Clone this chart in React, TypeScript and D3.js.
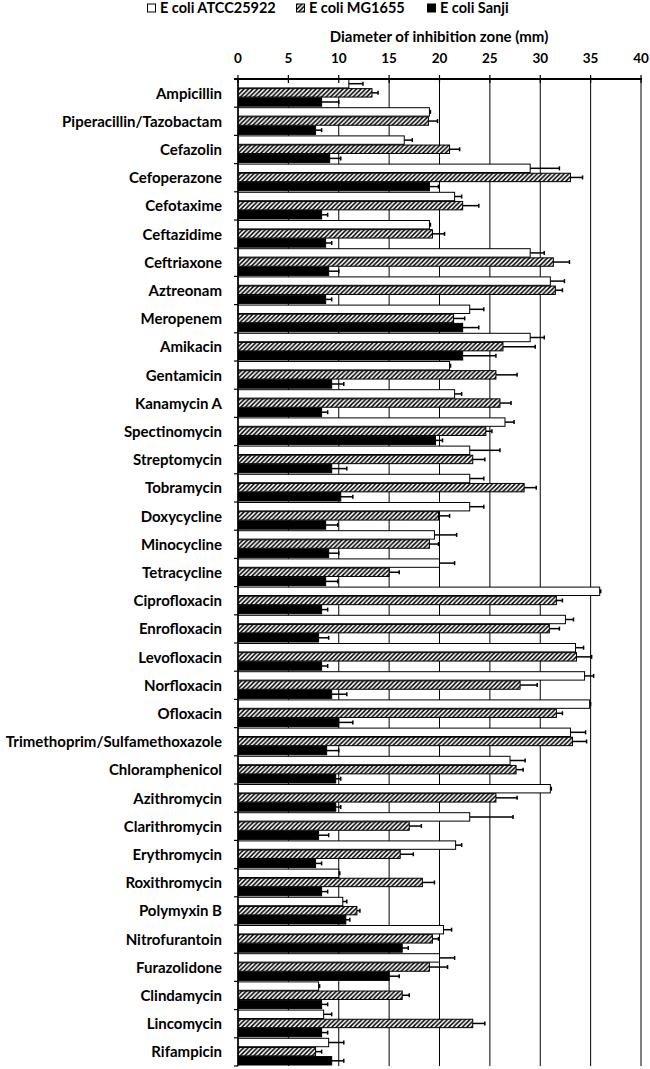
import React from "react";
import * as d3 from "d3";

const categories = [
  "Ampicillin", "Piperacillin/Tazobactam", "Cefazolin", "Cefoperazone", "Cefotaxime", "Ceftazidime",
  "Ceftriaxone", "Aztreonam", "Meropenem", "Amikacin", "Gentamicin", "Kanamycin A", "Spectinomycin",
  "Streptomycin", "Tobramycin", "Doxycycline", "Minocycline", "Tetracycline", "Ciprofloxacin",
  "Enrofloxacin", "Levofloxacin", "Norfloxacin", "Ofloxacin", "Trimethoprim/Sulfamethoxazole",
  "Chloramphenicol", "Azithromycin", "Clarithromycin", "Erythromycin", "Roxithromycin", "Polymyxin B",
  "Nitrofurantoin", "Furazolidone", "Clindamycin", "Lincomycin", "Rifampicin",
];

const seriesNames = ["E coli ATCC25922", "E coli MG1655", "E coli Sanji"];

const atcc = [11.0, 19.0, 16.5, 29.0, 21.5, 19.0, 29.0, 31.0, 23.0, 29.0, 21.0, 21.5, 26.5, 23.0, 23.0, 23.0, 19.5, 20.0, 35.9, 32.5, 33.5, 34.4, 34.9, 33.0, 27.0, 31.0, 23.0, 21.6, 10.0, 10.4, 20.4, 20.0, 8.0, 8.5, 9.0];
const atccErr = [1.4, 0.1, 0.8, 2.9, 0.7, 0.1, 1.4, 1.4, 1.4, 1.4, 0.1, 0.7, 0.9, 3.0, 1.4, 1.4, 2.2, 1.5, 0.1, 0.8, 0.8, 0.9, 0.1, 1.5, 1.5, 0.1, 4.3, 0.6, 0.1, 0.4, 0.8, 1.5, 0.1, 0.8, 1.5];
const mg = [13.3, 18.9, 21.0, 33.0, 22.3, 19.3, 31.3, 31.5, 21.4, 26.3, 25.6, 26.0, 24.6, 23.3, 28.4, 19.9, 19.0, 15.0, 31.6, 30.9, 33.6, 28.0, 31.6, 33.2, 27.6, 25.6, 17.0, 16.1, 18.3, 11.8, 19.3, 19.0, 16.3, 23.3, 7.7];
const mgErr = [0.6, 0.9, 1.0, 1.2, 1.6, 1.2, 1.6, 0.7, 1.1, 3.2, 2.1, 1.1, 0.6, 1.2, 1.2, 1.1, 0.9, 1.0, 0.6, 1.0, 1.5, 1.7, 0.6, 1.4, 0.7, 2.1, 1.2, 1.3, 1.2, 0.3, 0.6, 1.8, 0.7, 1.2, 0.6];
const sanji = [8.3, 7.7, 9.1, 19.0, 8.3, 8.7, 9.0, 8.7, 22.3, 22.3, 9.3, 8.3, 19.6, 9.3, 10.2, 8.7, 9.0, 8.7, 8.3, 8.0, 8.3, 9.3, 10.0, 8.8, 9.7, 9.7, 8.0, 7.7, 8.3, 10.7, 16.3, 15.0, 8.3, 8.3, 9.3];
const sanjiErr = [1.7, 0.6, 1.1, 0.9, 0.6, 0.6, 1.0, 0.6, 1.6, 3.3, 1.2, 0.6, 0.7, 1.5, 1.2, 1.2, 1.0, 1.2, 0.6, 1.0, 0.6, 1.5, 1.4, 1.2, 0.5, 0.5, 1.0, 0.6, 0.6, 0.4, 0.6, 1.0, 0.6, 0.6, 1.2];

const xTicks = [0, 5, 10, 15, 20, 25, 30, 35, 40];

const W = 650;
const H = 1069;
const FONT = "Lato, 'Open Sans', sans-serif";

export default function App() {
  const x = d3.scaleLinear().domain([0, 40]).range([238, 641]);
  const y = d3.scaleBand<string>().domain(categories).range([79, 1066]).paddingInner(0).paddingOuter(0);
  const inner = d3
    .scaleBand<number>()
    .domain([0, 1, 2])
    .range([0.5, y.bandwidth() - 1])
    .paddingInner(0.08);

  const values = [atcc, mg, sanji];
  const errs = [atccErr, mgErr, sanjiErr];
  const fills = ["#ffffff", "url(#hatch)", "#000000"];

  const legendItems = [
    { x: 147, label: seriesNames[0], fill: fills[0] },
    { x: 296, label: seriesNames[1], fill: fills[1] },
    { x: 427, label: seriesNames[2], fill: fills[2] },
  ];

  const top = y.range()[0];
  const bottom = y.range()[1];

  return (
    <svg width={W} height={H} style={{ position: "absolute", left: 0, top: 0, background: "#fff" }} fontFamily={FONT}>
      <defs>
        <pattern id="hatch" patternUnits="userSpaceOnUse" width={4.5} height={4.5}>
          <rect width={4.5} height={4.5} fill="#fff" />
          <path d="M-1,1 l2,-2 M0,4.5 l4.5,-4.5 M3.5,5.5 l2,-2" stroke="#000" strokeWidth={1.5} />
        </pattern>
      </defs>
      <rect x={0} y={0} width={W} height={H} fill="#fff" />

      {/* legend */}
      {legendItems.map((l, i) => (
        <g key={i}>
          <rect x={l.x + 0.5} y={4} width={8} height={8} fill={l.fill} stroke="#000" strokeWidth={1} />
          <text x={l.x + 13} y={13} fontSize={14.5} fontWeight="bold" fill="#000">
            {l.label}
          </text>
        </g>
      ))}

      {/* axis title */}
      <text x={439} y={42} textAnchor="middle" fontSize={15} fontWeight="bold" fill="#000">
        Diameter of inhibition zone (mm)
      </text>

      {/* gridlines */}
      {xTicks.slice(1).map((t) => (
        <line key={"g" + t} x1={x(t)} x2={x(t)} y1={top} y2={bottom} stroke="#000" strokeWidth={1} />
      ))}

      {/* bars */}
      {categories.map((c, i) => (
        <g key={c}>
          {values.map((vals, s) => {
            const y0 = (y(c) as number) + (inner(s) as number);
            const h = inner.bandwidth();
            const x0 = x(0);
            const x1 = x(vals[i]);
            const xe = x(vals[i] + errs[s][i]);
            const yc = y0 + h / 2;
            return (
              <g key={s}>
                <rect x={x0} y={y0} width={x1 - x0} height={h} fill={fills[s]} stroke="#000" strokeWidth={1} />
                <line x1={x1} x2={xe} y1={yc} y2={yc} stroke="#000" strokeWidth={1.5} />
                <line x1={xe} x2={xe} y1={yc - 2} y2={yc + 2} stroke="#000" strokeWidth={1.5} />
              </g>
            );
          })}
        </g>
      ))}

      {/* left axis */}
      <line x1={x(0)} x2={x(0)} y1={top} y2={bottom} stroke="#000" strokeWidth={1.5} />
      {categories.map((c) => (
        <line key={"t" + c} x1={x(0) - 4} x2={x(0)} y1={(y(c) as number) + y.bandwidth()} y2={(y(c) as number) + y.bandwidth()} stroke="#000" strokeWidth={1.2} />
      ))}
      {categories.map((c) => (
        <text key={"l" + c} x={222} y={(y(c) as number) + y.bandwidth() / 2 + 5.5} textAnchor="end" fontSize={15} fontWeight="bold" fill="#000">
          {c}
        </text>
      ))}

      {/* top axis */}
      <line x1={x(0) - 4} x2={x(40) + 1} y1={top} y2={top} stroke="#000" strokeWidth={1.8} />
      {xTicks.map((t) => (
        <g key={"x" + t}>
          <line x1={x(t)} x2={x(t)} y1={top - 4} y2={top + 4} stroke="#000" strokeWidth={1.2} />
          <text x={x(t)} y={63} textAnchor="middle" fontSize={13.5} fontWeight="bold" fill="#000">
            {t}
          </text>
        </g>
      ))}
    </svg>
  );
}
